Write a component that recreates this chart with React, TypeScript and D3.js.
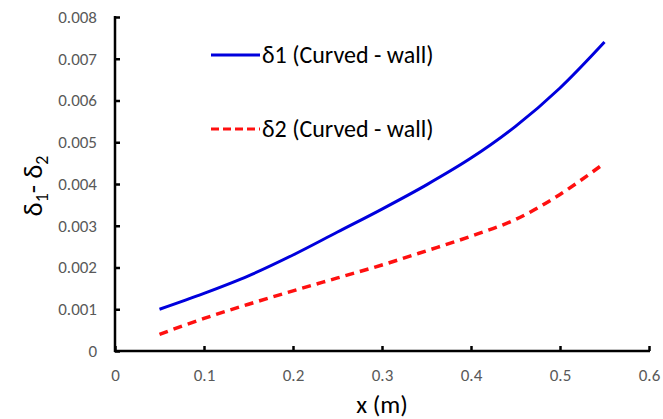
import React, { useEffect, useRef } from "react";
import * as d3 from "d3";

// values
const xValues = [0.05, 0.1, 0.15, 0.2, 0.25, 0.3, 0.35, 0.4, 0.45, 0.5, 0.55];
const delta1 = [0.001, 0.00138, 0.0018, 0.0023, 0.00285, 0.0034, 0.00398, 0.00462, 0.00538, 0.0063, 0.0074];
const delta2 = [0.0004, 0.00078, 0.00112, 0.00144, 0.00175, 0.00206, 0.0024, 0.00275, 0.00315, 0.00375, 0.0045];
const xTicks = [0, 0.1, 0.2, 0.3, 0.4, 0.5, 0.6];
const yTicks = [0, 0.001, 0.002, 0.003, 0.004, 0.005, 0.006, 0.007, 0.008];
const seriesNames = ["δ1 (Curved - wall)", "δ2 (Curved - wall)"];

const W = 663;
const H = 419;

const App = () => {
  const ref = useRef<SVGSVGElement | null>(null);

  useEffect(() => {
    const svg = d3.select(ref.current);
    svg.selectAll("*").remove();

    const x = d3.scaleLinear().domain([0, 0.6]).range([115, 649]);
    const y = d3.scaleLinear().domain([0, 0.008]).range([351, 17]);
    const font = "Carlito, 'Open Sans', 'Liberation Sans', sans-serif";

    // axes
    const xAxis = svg.append("g")
      .attr("transform", `translate(0,${y(0)})`)
      .call(d3.axisBottom(x).tickValues(xTicks).tickSize(-5).tickPadding(18)
        .tickFormat(d => (d === 0 ? "0" : d3.format(".1f")(d as number))));
    const yAxis = svg.append("g")
      .attr("transform", `translate(${x(0)},0)`)
      .call(d3.axisLeft(y).tickValues(yTicks).tickSize(-5).tickPadding(18)
        .tickFormat(d => (d === 0 ? "0" : d3.format(".3f")(d as number))));

    [xAxis, yAxis].forEach(g => {
      g.select(".domain").attr("stroke", "#000").attr("stroke-width", 2.5);
      g.selectAll(".tick line").attr("stroke", "#000").attr("stroke-width", 2.5);
      g.selectAll(".tick text")
        .attr("fill", "#595959")
        .style("font-family", font)
        .style("font-size", "17px");
    });
    xAxis.select(".domain").attr("d", `M${x(0) - 1},0H${x(0.6) + 1}`);
    yAxis.select(".domain").attr("d", `M0,${y(0) + 1}V${y(0.008) - 1}`);

    const line = d3.line<number>()
      .x((_, i) => x(xValues[i]))
      .y(d => y(d))
      .curve(d3.curveCatmullRom.alpha(0.5));

    svg.append("path")
      .datum(delta1)
      .attr("d", line)
      .attr("fill", "none")
      .attr("stroke", "#0000dd")
      .attr("stroke-width", 3);

    svg.append("path")
      .datum(delta2)
      .attr("d", line)
      .attr("fill", "none")
      .attr("stroke", "#ff1010")
      .attr("stroke-width", 3.5)
      .attr("stroke-dasharray", "9,6");

    // legend
    const legend = svg.append("g").style("font-family", font).style("font-size", "24px");
    const items = [
      { name: seriesNames[0], color: "#0000dd", dash: null, yy: 55 },
      { name: seriesNames[1], color: "#ff1010", dash: "8,4", yy: 129 },
    ];
    items.forEach(it => {
      legend.append("line")
        .attr("x1", 211).attr("x2", 260)
        .attr("y1", it.yy).attr("y2", it.yy)
        .attr("stroke", it.color)
        .attr("stroke-width", 3)
        .attr("stroke-dasharray", it.dash);
      legend.append("text")
        .attr("x", 262).attr("y", it.yy + 8)
        .attr("fill", "#000")
        .text(it.name);
    });

    // axis titles
    svg.append("text")
      .attr("x", 382).attr("y", 413)
      .attr("text-anchor", "middle")
      .style("font-family", font)
      .style("font-size", "25px")
      .attr("fill", "#000")
      .text("x (m)");

    const yt = svg.append("text")
      .attr("transform", "translate(42,186) rotate(-90)")
      .attr("text-anchor", "middle")
      .style("font-family", font)
      .style("font-size", "27px")
      .attr("fill", "#000");
    yt.append("tspan").text("δ");
    yt.append("tspan").text("1").attr("dy", 6).style("font-size", "18px");
    yt.append("tspan").text("- δ").attr("dy", -6);
    yt.append("tspan").text("2").attr("dy", 6).style("font-size", "18px");
  }, []);

  return (
    <svg
      ref={ref}
      width={W}
      height={H}
      style={{ position: "absolute", left: 0, top: 0, background: "#fff" }}
    />
  );
};

export default App;
